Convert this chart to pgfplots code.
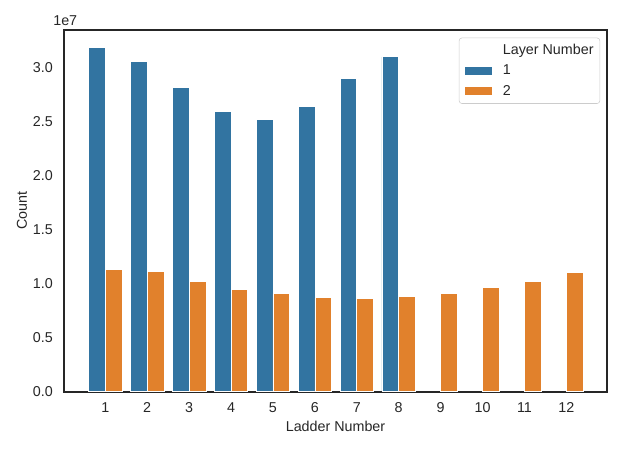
\documentclass[border=0pt]{standalone}
\usepackage{fontspec}
\setmainfont{Liberation Sans}
\usepackage{pgfplots}
\pgfplotsset{compat=1.18}

\definecolor{sbblue}{RGB}{50,116,161}
\definecolor{sborange}{RGB}{225,129,44}
\definecolor{ink}{RGB}{38,38,38}
\definecolor{legframe}{RGB}{204,204,204}

\begin{document}
\begin{tikzpicture}
\begin{axis}[
    name=ax, at={(0,0)}, anchor=south west,
    scale only axis, width=391pt, height=260.4pt,
    font=\fontsize{10.3}{12}\selectfont,
    color=ink,
    axis line style={ink, line width=1.25pt},
    xmin=0.015, xmax=12.97,
    ymin=0, ymax=33500000,
    bar width=0.4,
    xtick={1,...,12},
    ytick={0,5000000,10000000,15000000,20000000,25000000,30000000},
    major tick length=0pt,
    /pgf/number format/assume math mode=true,
    scaled y ticks=true,
    ytick scale label code/.code={1e#1},
    every y tick scale label/.style={at={(axis description cs:0,1)}, anchor=south west, inner sep=0pt, yshift=2.9pt},
    xticklabel style={anchor=center, yshift=-11.5pt, inner sep=0pt},
    yticklabel style={anchor=east, xshift=-7.9pt, inner sep=0pt,
        /pgf/number format/fixed, /pgf/number format/fixed zerofill,
        /pgf/number format/precision=1},
    xlabel={Ladder Number}, ylabel={Count},
    every axis x label/.style={at={(axis description cs:0.5,-0.0968)}, anchor=center},
    every axis y label/.style={at={(axis description cs:-0.0775,0.5)}, rotate=90, anchor=center},
    legend style={at={(axis description cs:1,1)}, anchor=north east,
        xshift=-5pt, yshift=-5.5pt,
        draw=legframe, rounded corners=2pt, fill=white, fill opacity=0.8, text opacity=1,
        inner xsep=3.5pt, inner ysep=3.5pt, row sep=4pt, column sep=6.5pt,
        nodes={inner sep=1pt}},
    legend cell align=left,
]
\addlegendimage{legend image code/.code={}}
\addlegendentry{Layer Number}
% layer 1
\addplot[ybar, bar shift=-0.2, fill=sbblue, draw=white, line width=0.5pt,
    legend image code/.code={\path[fill=sbblue, fill opacity=1, sharp corners] (0pt,-3.3pt) rectangle (20pt,3.3pt);}]
  coordinates {
    (1,31860000) (2,30560000) (3,28200000) (4,25920000)
    (5,25230000) (6,26410000) (7,29040000) (8,31020000) };
\addlegendentry{1}
% layer 2
\addplot[ybar, bar shift=0.2, fill=sborange, draw=white, line width=0.5pt,
    legend image code/.code={\path[fill=sborange, fill opacity=1, sharp corners] (0pt,-3.3pt) rectangle (20pt,3.3pt);}]
  coordinates {
    (1,11290000) (2,11170000) (3,10200000) (4,9460000)
    (5,9090000) (6,8690000) (7,8660000) (8,8810000)
    (9,9060000) (10,9680000) (11,10240000) (12,11010000) };
\addlegendentry{2}
\end{axis}
\pgfresetboundingbox
\path (-46.1pt,-41.3pt) rectangle (402.5pt,282pt);
\end{tikzpicture}
\end{document}
